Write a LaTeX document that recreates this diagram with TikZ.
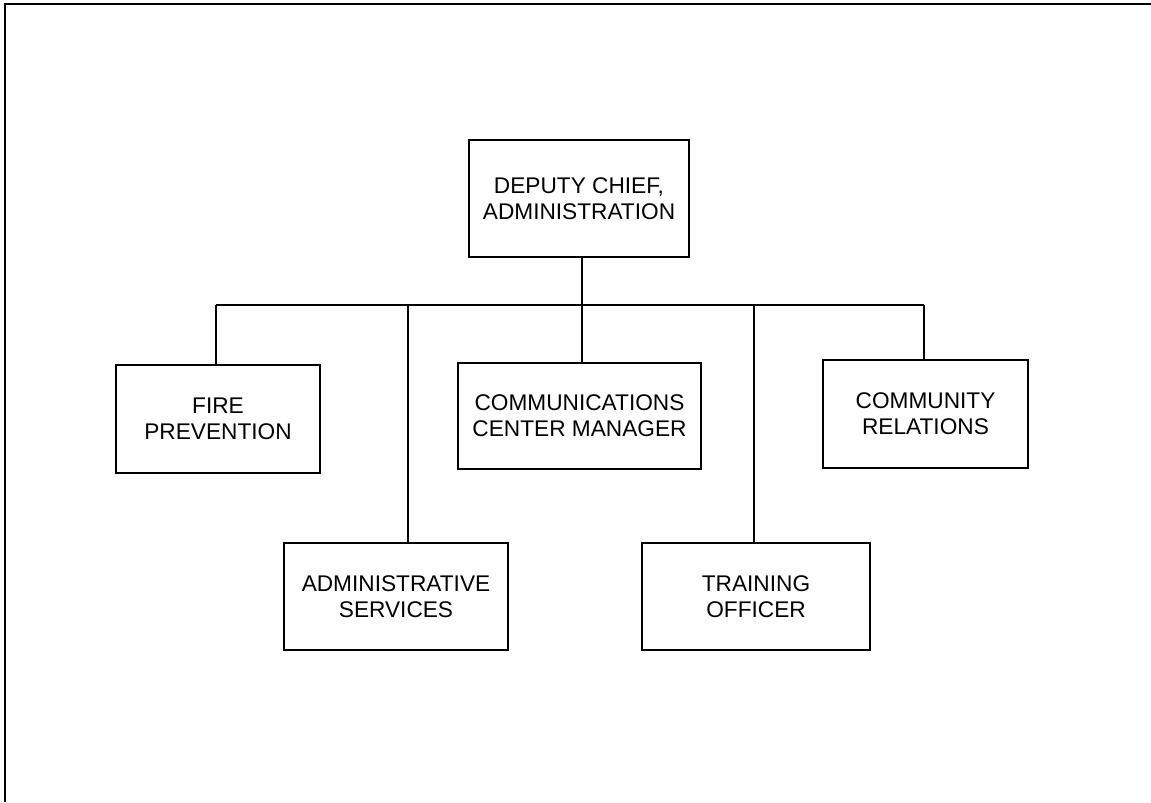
\documentclass[tikz,border=0pt]{standalone}
\usepackage{fontspec}
\setmainfont{Liberation Sans}
\usetikzlibrary{positioning}

\tikzset{
    post/.style={draw, rectangle, line width=1.5pt, align=center, inner sep=2pt,
        font=\fontsize{17}{19.5}\selectfont},
    link/.style={line width=1.5pt}
}

\begin{document}
\begin{tikzpicture}[x=0.75pt, y=-0.75pt]
    \useasboundingbox (0,0) rectangle (1151,802);

    % Page frame (top and left only)
    \coordinate (frameTR) at (1151,4);
    \coordinate (frameTL) at (5,4);
    \coordinate (frameBL) at (5,802);
    \draw[line width=1.5pt] (frameTR) -- (frameTL) -- (frameBL);

    % Head of division
    \node[post, minimum width=165pt, minimum height=87.75pt] (deputy) at (579,198.5) {DEPUTY CHIEF,\\ADMINISTRATION};

    % Upper row
    \node[post, minimum width=153pt, minimum height=81pt] (fire) at (218,419) {FIRE\\PREVENTION};
    \node[post, minimum width=182.25pt, minimum height=79.5pt] (comm) at (579.5,416) {COMMUNICATIONS\\CENTER MANAGER};
    \node[post, minimum width=153.75pt, minimum height=81pt] (relations) at (925.5,414) {COMMUNITY\\RELATIONS};

    % Lower row
    \node[post, minimum width=168pt, minimum height=80.25pt] (admin) at (396,596.5) {ADMINISTRATIVE\\SERVICES};
    \node[post, minimum width=171pt, minimum height=80.25pt] (training) at (756,596.5) {TRAINING\\OFFICER};

    % Bus taps
    \coordinate (tapFire) at (216,305);
    \coordinate (tapAdmin) at (408,305);
    \coordinate (tapDeputy) at (582,305);
    \coordinate (tapTraining) at (754,305);
    \coordinate (tapRelations) at (924,305);

    % Connections
    \draw[link] (tapFire) -- (tapRelations);
    \draw[link] (tapDeputy |- deputy.south) -- (tapDeputy);
    \draw[link] (tapFire) -- (tapFire |- fire.north);
    \draw[link] (tapAdmin) -- (tapAdmin |- admin.north);
    \draw[link] (tapDeputy) -- (tapDeputy |- comm.north);
    \draw[link] (tapTraining) -- (tapTraining |- training.north);
    \draw[link] (tapRelations) -- (tapRelations |- relations.north);
\end{tikzpicture}
\end{document}
